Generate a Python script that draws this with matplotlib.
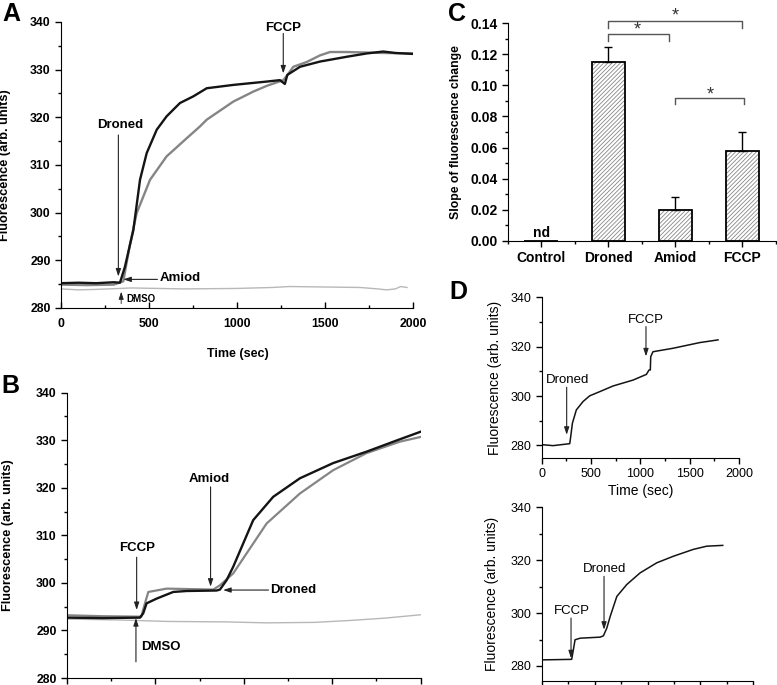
import numpy as np
import matplotlib
matplotlib.use("Agg")
import matplotlib.pyplot as plt
from matplotlib.ticker import MultipleLocator

plt.rcParams['font.family'] = ['Liberation Sans', 'DejaVu Sans']
plt.rcParams['hatch.linewidth'] = 0.6

# ---- panel A traces (time in s, fluorescence) ----
a_black_t = [0, 100, 200, 300, 335, 363, 411, 449, 487, 544, 600, 676, 752, 828, 979,
             1169, 1244, 1272, 1286, 1358, 1472, 1623, 1737, 1831, 1900, 2000]
a_black_v = [285.2, 285.3, 285.2, 285.4, 285.3, 288.6, 296.3, 306.9, 312.5, 317.4, 320.2,
             323.0, 324.4, 326.1, 326.8, 327.5, 327.8, 327.0, 328.9, 330.6, 331.7, 332.7,
             333.4, 333.8, 333.5, 333.3]
a_gray_t = [0, 150, 300, 354, 390, 430, 506, 600, 714, 790, 828, 979, 1093, 1169, 1263,
            1285, 1320, 1396, 1472, 1529, 1623, 1831, 2000]
a_gray_v = [284.9, 284.8, 284.9, 285.6, 293.0, 299.9, 306.9, 311.8, 315.6, 318.1, 319.5,
            323.3, 325.4, 326.6, 327.8, 328.8, 330.6, 331.6, 333.0, 333.7, 333.7, 333.5, 333.4]
a_dmso_t = [0, 100, 200, 400, 700, 1000, 1200, 1300, 1500, 1700, 1800, 1850, 1900, 1930, 1966]
a_dmso_v = [284.0, 283.8, 283.9, 284.2, 284.0, 284.1, 284.3, 284.5, 284.4, 284.3, 284.0,
            283.8, 284.0, 284.5, 284.3]

# ---- panel B traces ----
b_black_t = [0, 200, 413, 431, 450, 507, 601, 677, 846, 865, 903, 940, 1053, 1166, 1317,
             1505, 1694, 1882, 2000]
b_black_v = [292.7, 292.6, 292.7, 293.6, 295.7, 296.7, 298.1, 298.3, 298.4, 298.6, 300.6,
             303.4, 313.2, 318.1, 322.0, 325.2, 327.6, 330.2, 331.8]
b_gray_t = [0, 200, 420, 441, 460, 564, 827, 865, 940, 1129, 1317, 1505, 1694, 1882, 2000]
b_gray_v = [293.2, 293.0, 292.9, 295.7, 298.1, 298.8, 298.6, 299.5, 302.0, 312.5, 318.8,
            323.7, 327.3, 329.7, 330.7]
b_dmso_t = [0, 300, 564, 900, 1129, 1400, 1600, 1800, 2000]
b_dmso_v = [292.4, 292.2, 291.9, 291.8, 291.6, 291.7, 292.1, 292.6, 293.3]

# ---- panel C bars ----
c_groups = ['Control', 'Droned', 'Amiod', 'FCCP']
c_slope = [0.0, 0.115, 0.020, 0.058]
c_err = [0.0, 0.0095, 0.008, 0.012]

# ---- panel D traces ----
d1_t = [0, 115, 284, 294, 311, 351, 419, 486, 588, 723, 926, 1061, 1088, 1101, 1105,
        1128, 1331, 1601, 1787]
d1_v = [280.3, 279.9, 280.7, 283.6, 289.0, 294.4, 297.8, 300.1, 301.8, 304.1, 306.5,
        308.8, 310.6, 310.6, 316.0, 318.0, 319.4, 321.7, 322.8]
d2_t = [0, 150, 283, 299, 315, 363, 552, 583, 615, 647, 710, 804, 930, 1087, 1245,
        1434, 1560, 1711]
d2_v = [282.3, 282.4, 282.5, 286.1, 289.9, 290.5, 290.9, 291.4, 294.3, 298.7, 306.3,
        310.8, 315.2, 319.0, 321.5, 324.1, 325.3, 325.6]

BLACK = '#141414'
GRAY = '#858585'
LIGHT = '#b8b8b8'

fig = plt.figure(figsize=(7.77, 6.85), dpi=100)


def arrow(ax, xy, xytext, lw=0.8):
    ax.annotate('', xy=xy, xytext=xytext,
                arrowprops=dict(arrowstyle='-|>,head_length=0.45,head_width=0.15',
                                lw=lw, color='#222222', shrinkA=0, shrinkB=0))


def trace_axes(ax, xdir, ytick=10):
    for s in ['top', 'right']:
        ax.spines[s].set_visible(False)
    ax.xaxis.set_major_locator(MultipleLocator(500))
    ax.xaxis.set_minor_locator(MultipleLocator(250))
    ax.yaxis.set_major_locator(MultipleLocator(ytick))
    ax.yaxis.set_minor_locator(MultipleLocator(ytick / 2))
    ax.tick_params(axis='y', which='both', direction='out')
    ax.tick_params(axis='x', which='both', direction=xdir)
    ax.tick_params(which='major', length=4, width=1)
    ax.tick_params(which='minor', length=2.5, width=1)


# ================= A =================
axA = fig.add_axes([0.0785, 0.5504, 0.453, 0.4175])
axA.plot(a_dmso_t, a_dmso_v, color=LIGHT, lw=1.0)
axA.plot(a_gray_t, a_gray_v, color=GRAY, lw=1.7)
axA.plot(a_black_t, a_black_v, color=BLACK, lw=1.7)
axA.set_xlim(0, 2000)
axA.set_ylim(280, 340)
trace_axes(axA, 'in')
axA.tick_params(axis='x', pad=7)
for lab in axA.get_xticklabels() + axA.get_yticklabels():
    lab.set_fontweight('bold')
    lab.set_fontsize(8.8)
axA.set_xlabel('Time (sec)', fontsize=9, fontweight='bold')
axA.xaxis.set_label_coords(0.503, -0.141)
axA.set_ylabel('Fluorescence (arb. units)', fontsize=9.2, fontweight='bold')
axA.yaxis.set_label_coords(-0.142, 0.5)
axA.text(335, 318.4, 'Droned', ha='center', va='center', fontsize=9.5, fontweight='bold')
arrow(axA, (326, 286.6), (326, 316.3))
axA.text(560, 286.3, 'Amiod', ha='left', va='center', fontsize=9.5, fontweight='bold')
arrow(axA, (354, 286.0), (548, 286.0))
axA.text(1263, 338.7, 'FCCP', ha='center', va='center', fontsize=9.5, fontweight='bold')
arrow(axA, (1263, 329.2), (1263, 337.6))
axA.text(372, 281.9, 'DMSO', ha='left', va='center', fontsize=7, fontweight='bold')
arrow(axA, (342, 283.4), (342, 280.9), lw=0.6)

# ================= B =================
axB = fig.add_axes([0.0862, 0.0102, 0.4552, 0.4165])
axB.plot(b_dmso_t, b_dmso_v, color=LIGHT, lw=1.0)
axB.plot(b_gray_t, b_gray_v, color=GRAY, lw=1.6)
axB.plot(b_black_t, b_black_v, color=BLACK, lw=1.7)
axB.set_xlim(0, 2000)
axB.set_ylim(280, 340)
trace_axes(axB, 'out')
axB.set_xticklabels([])
for lab in axB.get_yticklabels():
    lab.set_fontweight('bold')
    lab.set_fontsize(8.8)
axB.set_ylabel('Fluorescence (arb. units)', fontsize=9.2, fontweight='bold')
axB.yaxis.set_label_coords(-0.15, 0.5)
axB.text(397, 307.3, 'FCCP', ha='center', va='center', fontsize=9.5, fontweight='bold')
arrow(axB, (394, 294.3), (394, 305.4))
axB.text(804, 321.9, 'Amiod', ha='center', va='center', fontsize=9.5, fontweight='bold')
arrow(axB, (812, 299.2), (812, 320.2))
axB.text(1150, 298.5, 'Droned', ha='left', va='center', fontsize=9.5, fontweight='bold')
arrow(axB, (883, 298.5), (1140, 298.5))
axB.text(422, 286.5, 'DMSO', ha='left', va='center', fontsize=9.5, fontweight='bold')
arrow(axB, (390, 292.6), (390, 283.4))

# ================= C =================
axC = fig.add_axes([0.6534, 0.6486, 0.3453, 0.3174])
xpos = np.arange(1, len(c_groups) + 1)
axC.bar(xpos, c_slope, width=0.5, color='white', edgecolor='#888888',
        hatch='////////', lw=0)
axC.bar(xpos, c_slope, width=0.5, color='none', edgecolor='black', lw=1.3)
axC.errorbar(xpos[1:], c_slope[1:], yerr=[np.zeros(3), c_err[1:]], fmt='none',
             ecolor='black', elinewidth=1, capsize=3, capthick=1)
axC.set_xlim(0.5, 4.5)
axC.set_ylim(0, 0.14)
for s in ['top', 'right']:
    axC.spines[s].set_visible(False)
axC.set_xticks(xpos)
axC.set_xticklabels(c_groups, fontsize=10, fontweight='bold')
axC.xaxis.set_minor_locator(MultipleLocator(0.5))
axC.yaxis.set_major_locator(MultipleLocator(0.02))
axC.yaxis.set_minor_locator(MultipleLocator(0.01))
axC.yaxis.set_major_formatter(matplotlib.ticker.FormatStrFormatter('%.2f'))
axC.tick_params(which='major', length=4, width=1, direction='out')
axC.tick_params(which='minor', length=2.5, width=1, direction='out')
for lab in axC.get_yticklabels():
    lab.set_fontweight('bold')
    lab.set_fontsize(10)
axC.set_ylabel('Slope of fluorescence change', fontsize=8.8, fontweight='bold')
axC.yaxis.set_label_coords(-0.171, 0.5)
axC.text(1, 0.0047, 'nd', ha='center', va='center', fontsize=10, fontweight='bold')


def bracket(ax, x1, x2, y, leg, sx, sy):
    ax.plot([x1, x1, x2, x2], [y - leg, y, y, y - leg], color='#555555', lw=1,
            clip_on=False)
    ax.text(sx, sy, '*', ha='center', va='center', fontsize=13, color='#333333',
            clip_on=False)


bracket(axC, 2, 4, 0.1417, 0.005, 3.0, 0.1445)
bracket(axC, 2, 2.91, 0.1329, 0.0041, 2.43, 0.1355)
bracket(axC, 3, 4.02, 0.0917, 0.0037, 3.52, 0.0938)

# ================= D top =================
axD1 = fig.add_axes([0.6972, 0.3318, 0.2539, 0.2339])
axD1.plot(d1_t, d1_v, color=BLACK, lw=1.1)
axD1.set_xlim(0, 2000)
axD1.set_ylim(275, 340)
trace_axes(axD1, 'out', ytick=20)
axD1.tick_params(labelsize=9)
axD1.set_xlabel('Time (sec)', fontsize=10)
axD1.xaxis.set_label_coords(0.5, -0.166)
axD1.set_ylabel('Fluorescence (arb. units)', fontsize=10)
axD1.yaxis.set_label_coords(-0.203, 0.5)
axD1.text(263, 306.6, 'Droned', ha='center', va='center', fontsize=9.5)
arrow(axD1, (253, 284.3), (253, 303.6))
axD1.text(1057, 330.8, 'FCCP', ha='center', va='center', fontsize=9.5)
arrow(axD1, (1057, 316.1), (1057, 328.2))

# ================= D bottom =================
axD2 = fig.add_axes([0.6972, 0.0058, 0.2723, 0.2536])
axD2.plot(d2_t, d2_v, color=BLACK, lw=1.1)
axD2.set_xlim(0, 2000)
axD2.set_ylim(274.3, 340)
trace_axes(axD2, 'out', ytick=20)
axD2.tick_params(labelsize=9)
axD2.set_xticklabels([])
axD2.set_ylabel('Fluorescence (arb. units)', fontsize=10)
axD2.yaxis.set_label_coords(-0.202, 0.5)
axD2.text(284, 300.6, 'FCCP', ha='center', va='center', fontsize=9.5)
arrow(axD2, (277, 282.9), (277, 298.1))
axD2.text(598, 316.7, 'Droned', ha='center', va='center', fontsize=9.5)
arrow(axD2, (589, 293.7), (589, 313.9))

# panel letters
for letter, x, y in [('A', 11, 14), ('B', 10, 386), ('C', 457, 14), ('D', 458, 292)]:
    fig.text(x / 777, 1 - y / 685, letter, ha='center', va='center',
             fontsize=18, fontweight='bold')

fig.savefig('out.png', dpi=100)
